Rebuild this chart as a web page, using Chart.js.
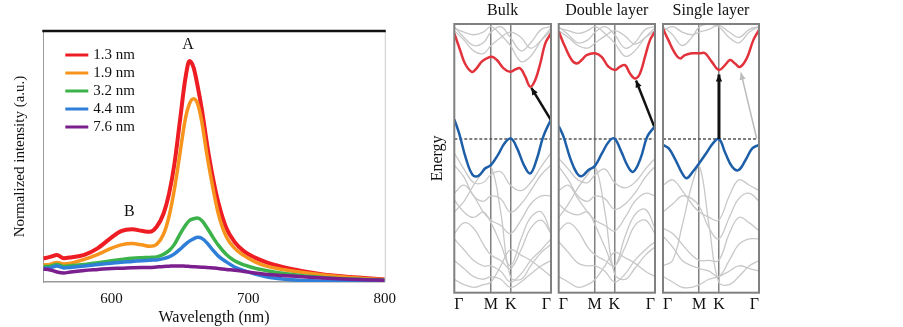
<!DOCTYPE html>
<html lang="en">
<head>
<meta charset="UTF-8">
<title>PL spectra and band structure</title>
<script src="https://cdn.jsdelivr.net/npm/chart.js"></script>
<style>
body { margin: 0; background: #fff; }
#wrap { position: relative; width: 903px; height: 327px; overflow: hidden; }
canvas { position: absolute; top: 0; }
#pl { left: 0; }
#bulk { left: 420px; }
#double { left: 548px; }
#single { left: 653px; }
</style>
</head>
<body>
<div id="wrap">
  <canvas id="pl" width="404" height="327"></canvas>
  <canvas id="bulk" width="141" height="327"></canvas>
  <canvas id="double" width="117" height="327"></canvas>
  <canvas id="single" width="116" height="327"></canvas>
</div>
<script>
// ---- PL spectra (normalized intensity, 0..1 of plot height) ----
const wavelength = [550, 555, 560, 565, 570, 580, 590, 600, 607, 615, 622, 628, 633, 638, 642, 646, 650, 654, 657, 660, 663, 666, 670, 674, 678, 684, 690, 697, 705, 714, 725, 740, 755, 770, 785, 800];
const pl13 = [.094, .10, .108, .095, .098, .108, .135, .178, .203, .21, .204, .2, .22, .272, .35, .47, .64, .81, .88, .855, .78, .69, .545, .42, .32, .215, .16, .122, .097, .077, .06, .043, .03, .022, .016, .01];
const pl19 = [.068, .07, .078, .072, .075, .09, .11, .135, .148, .153, .148, .142, .15, .19, .26, .37, .51, .65, .71, .73, .71, .64, .5, .38, .275, .18, .135, .105, .08, .062, .05, .038, .028, .02, .014, .01];
const pl32 = [.061, .063, .07, .062, .065, .07, .077, .085, .09, .095, .097, .098, .1, .11, .125, .15, .19, .225, .245, .252, .255, .245, .215, .18, .148, .11, .085, .068, .055, .045, .035, .025, .018, .013, .01, .008];
const pl44 = [.054, .056, .064, .056, .058, .064, .07, .075, .079, .082, .085, .087, .088, .093, .1, .112, .13, .15, .163, .172, .178, .174, .155, .128, .104, .08, .06, .045, .032, .02, .012, .006, .004, .003, .003, .003];
const pl76 = [.052, .048, .04, .036, .04, .046, .05, .054, .055, .057, .058, .058, .06, .062, .063, .064, .064, .063, .062, .061, .06, .059, .058, .056, .054, .05, .047, .042, .036, .03, .026, .021, .016, .012, .009, .007];
const thickness = ['1.3 nm', '1.9 nm', '3.2 nm', '4.4 nm', '7.6 nm'];
const wlTicks = [600, 700, 800];
const peakNames = ['A', 'B'];
const peakX = [656, 613];
const peakY = [0.944, 0.279];

// ---- band structures (energy as 0..1 of panel height) ----
const kLabels = ['\u0393', 'M', 'K', '\u0393'];
const bulkK = [0, 0.378, 0.585, 1];
const doubleK = [0, 0.374, 0.578, 1];
const singleK = [0, 0.375, 0.583, 1];
const fermiLevel = 0.572;
const bandK = [0, 0.1, 0.2, 0.3, 0.38, 0.48, 0.58, 0.69, 0.79, 0.9, 1];

const bulkCbK = [0, .06, .11, .18, .23, .284, .336, .388, .44, .51, .578, .63, .68, .734, .785, .837, .889, .941, 1];
const bulkCbE = [.965, .903, .853, .822, .835, .86, .872, .878, .866, .835, .822, .831, .835, .804, .767, .792, .853, .928, .965];
const bulkVbK = [0, .05, .12, .19, .25, .32, .378, .45, .52, .585, .65, .72, .785, .85, .92, 1];
const bulkVbE = [.645, .593, .5, .438, .435, .463, .475, .512, .556, .574, .537, .475, .444, .494, .581, .645];
const bulkArrowK = [0.995, 0.797];
const bulkArrowE = [0.645, 0.762];
const bulkGray = [
  [.99, .95, .92, .93, .97, .99, .95, .90, .93, .98, .99],
  [.985, .97, .96, .97, .99, .96, .92, .86, .88, .94, .985],
  [.975, .94, .90, .89, .92, .95, .97, .95, .91, .94, .975],
  [.52, .46, .41, .41, .44, .45, .40, .38, .41, .47, .52],
  [.475, .43, .36, .34, .36, .35, .30, .33, .38, .44, .475],
  [.37, .40, .36, .30, .27, .25, .22, .27, .33, .36, .36],
  [.345, .30, .28, .30, .26, .18, .10, .20, .28, .30, .22],
  [.22, .26, .24, .18, .14, .12, .09, .16, .24, .27, .22],
  [.20, .16, .12, .10, .10, .08, .04, .07, .12, .16, .20],
  [.12, .09, .06, .05, .06, .05, .02, .04, .07, .10, .12],
  [.30, .34, .40, .45, .47, .30, .06, .05, .10, .15, .18],
  [.05, .03, .02, .03, .04, .10, .16, .14, .12, .09, .06]
];

const doubleCbK = [0, .066, .135, .187, .239, .29, .377, .446, .516, .585, .637, .689, .74, .792, .844, .896, .948, 1];
const doubleCbE = [.972, .915, .866, .853, .866, .884, .891, .878, .841, .829, .841, .847, .816, .797, .816, .878, .94, .972];
const doubleVbK = [0, .05, .12, .19, .24, .31, .374, .45, .52, .578, .65, .72, .775, .85, .92, 1];
const doubleVbE = [.62, .581, .5, .444, .434, .457, .471, .519, .562, .574, .525, .469, .45, .5, .581, .62];
const doubleArrowK = [0.99, 0.803];
const doubleArrowE = [0.62, 0.79];
const doubleGray = [
  [.99, .96, .93, .94, .97, .99, .96, .91, .93, .98, .99],
  [.985, .975, .965, .975, .99, .965, .93, .88, .90, .95, .985],
  [.975, .95, .92, .91, .93, .955, .975, .955, .925, .95, .975],
  [.50, .46, .42, .41, .44, .46, .41, .39, .41, .46, .50],
  [.47, .42, .36, .34, .36, .35, .31, .33, .37, .43, .47],
  [.38, .40, .35, .30, .27, .25, .23, .28, .34, .37, .36],
  [.33, .30, .29, .30, .25, .17, .10, .21, .29, .31, .24],
  [.23, .26, .23, .17, .14, .12, .10, .17, .25, .27, .22],
  [.19, .15, .11, .10, .10, .08, .04, .07, .12, .16, .19],
  [.28, .33, .39, .44, .47, .30, .07, .05, .09, .14, .17],
  [.06, .04, .02, .03, .05, .10, .15, .13, .11, .08, .06]
];

const singleCbK = [0, .056, .125, .177, .229, .3, .385, .438, .507, .583, .646, .698, .75, .802, .872, .941, 1];
const singleCbE = [.982, .94, .891, .872, .884, .891, .891, .891, .86, .829, .847, .866, .853, .84, .872, .94, .978];
const singleVbK = [0, .06, .13, .2, .247, .31, .375, .45, .52, .583, .65, .72, .785, .86, .93, 1];
const singleVbE = [.55, .537, .494, .444, .426, .45, .481, .519, .556, .572, .519, .469, .456, .494, .537, .55];
const singleArrowK = [0.583, 0.583];
const singleArrowE = [0.572, 0.812];
const singleFaintArrowK = [0.976, 0.812];
const singleFaintArrowE = [0.574, 0.819];
const singleGray = [
  [.99, .96, .92, .95, .99, 1.0, .99, .95, .93, .97, .99],
  [.975, .99, .97, .96, .97, .98, .995, .97, .95, .98, .99],
  [.40, .42, .38, .33, .30, .28, .27, .36, .42, .40, .38],
  [.30, .33, .36, .35, .32, .24, .20, .28, .35, .37, .34],
  [.24, .22, .18, .14, .12, .12, .12, .22, .28, .26, .23],
  [.21, .17, .12, .10, .09, .08, .06, .12, .18, .20, .20],
  [.10, .12, .25, .40, .47, .25, .04, .03, .06, .10, .12],
  [.06, .04, .02, .02, .03, .05, .06, .08, .10, .09, .08]
];

const serif = '"Liberation Serif", "Times New Roman", serif';
Chart.defaults.font.family = serif;
Chart.defaults.color = '#111';
Chart.defaults.animation = false;

const pts = (xs, ys) => xs.map((x, i) => ({ x: x, y: ys[i] }));

// legend, frame and A/B labels of the PL plot
const plDecor = {
  id: 'plDecor',
  afterDraw(chart) {
    const { ctx, chartArea: a, scales } = chart;
    ctx.save();
    ctx.strokeStyle = '#cccccc';
    ctx.lineWidth = 1;
    ctx.beginPath(); ctx.moveTo(a.right + 0.5, a.top); ctx.lineTo(a.right + 0.5, a.bottom); ctx.stroke();
    ctx.strokeStyle = '#111';
    ctx.lineWidth = 2.5;
    ctx.beginPath(); ctx.moveTo(a.left - 1, a.top); ctx.lineTo(a.right + 1, a.top); ctx.stroke();

    ctx.font = '15px ' + serif;
    ctx.textBaseline = 'middle';
    ctx.fillStyle = '#111';
    chart.data.datasets.forEach((ds, i) => {
      const y = a.top + 24 + i * 18;
      ctx.strokeStyle = ds.borderColor;
      ctx.lineWidth = 3;
      ctx.beginPath(); ctx.moveTo(a.left + 22, y); ctx.lineTo(a.left + 45, y); ctx.stroke();
      ctx.fillText(ds.label, a.left + 50, y);
    });

    ctx.textAlign = 'center';
    ctx.font = '16px ' + serif;
    peakNames.forEach((n, i) => {
      ctx.fillText(n, scales.x.getPixelForValue(peakX[i]), scales.y.getPixelForValue(peakY[i]));
    });
    ctx.restore();
  }
};

const plColors = ['#ee1d23', '#f7941d', '#3bb34a', '#2f7ed8', '#7b1e8e'];
const plSeries = [pl13, pl19, pl32, pl44, pl76];

new Chart(document.getElementById('pl'), {
  type: 'line',
  data: {
    datasets: plSeries.map((s, i) => ({
      label: thickness[i],
      data: pts(wavelength, s),
      borderColor: plColors[i],
      borderWidth: i === 0 ? 4 : 3.5,
      order: 4 - i
    }))
  },
  options: {
    responsive: false,
    layout: { padding: { left: 0, right: 11, top: 31, bottom: 0 } },
    elements: { point: { radius: 0 }, line: { cubicInterpolationMode: 'monotone' } },
    plugins: { legend: { display: false }, tooltip: { enabled: false } },
    scales: {
      x: {
        type: 'linear', min: 550, max: 800,
        afterBuildTicks: s => { s.ticks = wlTicks.map(v => ({ value: v })); },
        grid: { display: false, drawTicks: false },
        border: { color: '#999', width: 1.5 },
        ticks: { font: { size: 15 }, padding: 8, color: '#111' },
        title: { display: true, text: 'Wavelength (nm)', font: { size: 16 }, padding: { top: 0, bottom: 0 } },
        afterFit: s => { s.height = 45; }
      },
      y: {
        min: 0, max: 1,
        ticks: { display: false },
        grid: { display: false },
        border: { color: '#999', width: 1 },
        title: { display: true, text: 'Normalized intensity (a.u.)', font: { size: 15 }, padding: { top: 11, bottom: 11 } },
        afterFit: s => { s.width = 43.3; }
      }
    }
  },
  plugins: [plDecor]
});

// frame, arrowheads and caption of a band panel
const panelDecor = {
  id: 'panelDecor',
  afterDatasetsDraw(chart, args, opts) {
    const { ctx, chartArea: a } = chart;
    ctx.save();
    chart.data.datasets.forEach((ds, i) => {
      if (!ds.arrow) return;
      const p = chart.getDatasetMeta(i).data;
      const p0 = p[p.length - 2], p1 = p[p.length - 1];
      const ang = Math.atan2(p1.y - p0.y, p1.x - p0.x);
      const L = 7, W = 3.2;
      ctx.fillStyle = ds.borderColor;
      ctx.beginPath();
      ctx.moveTo(p1.x, p1.y);
      ctx.lineTo(p1.x - L * Math.cos(ang) + W * Math.sin(ang), p1.y - L * Math.sin(ang) - W * Math.cos(ang));
      ctx.lineTo(p1.x - L * Math.cos(ang) - W * Math.sin(ang), p1.y - L * Math.sin(ang) + W * Math.cos(ang));
      ctx.closePath();
      ctx.fill();
    });
    ctx.strokeStyle = '#808080';
    ctx.lineWidth = 2;
    ctx.strokeRect(a.left, a.top, a.right - a.left, a.bottom - a.top);
    ctx.fillStyle = '#111';
    ctx.font = '16px ' + serif;
    ctx.textAlign = 'center';
    ctx.textBaseline = 'middle';
    ctx.fillText(opts.name, (a.left + a.right) / 2, 11);
    ctx.restore();
  }
};

function makePanel(id, p) {
  const datasets = p.gray.map(ys => ({
    data: pts(bandK, ys), borderColor: '#c8c8c8', borderWidth: 1.3, order: 5
  }));
  datasets.push({ data: pts([0, 1], [fermiLevel, fermiLevel]), borderColor: '#555', borderWidth: 1.5, borderDash: [3, 2], tension: 0, order: 3 });
  datasets.push({ data: pts(p.cbK, p.cbE), borderColor: '#e2323b', borderWidth: 2.5, order: 1 });
  datasets.push({ data: pts(p.vbK, p.vbE), borderColor: '#1d5ea8', borderWidth: 2.5, order: 1 });
  p.arrows.forEach(ar => datasets.push({
    data: pts(ar.k, ar.e), borderColor: ar.color, borderWidth: ar.width, tension: 0, arrow: true, order: 0
  }));

  new Chart(document.getElementById(id), {
    type: 'line',
    data: { datasets: datasets },
    options: {
      responsive: false,
      layout: { padding: { left: p.padLeft, right: 10, top: 24, bottom: 0 } },
      elements: { point: { radius: 0 }, line: { tension: 0.4 } },
      plugins: { legend: { display: false }, tooltip: { enabled: false }, panelDecor: { name: p.name } },
      scales: {
        x: {
          type: 'linear', min: 0, max: 1,
          afterBuildTicks: s => { s.ticks = p.kTicks.map(v => ({ value: v })); },
          grid: {
            drawTicks: false, lineWidth: 1.5,
            color: c => (c.tick && c.tick.value > 0 && c.tick.value < 1) ? '#808080' : 'rgba(0,0,0,0)'
          },
          border: { display: false },
          ticks: { autoSkip: false, maxRotation: 0, align: 'inner', padding: 2, font: { size: 16 }, color: '#111',
                   callback: (v, i) => kLabels[i] },
          afterFit: s => { s.height = 34.3; }
        },
        y: p.energyAxis ? {
          min: 0, max: 1,
          ticks: { display: false },
          grid: { display: false },
          border: { display: false },
          title: { display: true, text: 'Energy', font: { size: 16 }, padding: { top: 8, bottom: 8 } },
          afterFit: s => { s.width = 34.3; }
        } : { display: false, min: 0, max: 1 }
      }
    },
    plugins: [panelDecor]
  });
}

makePanel('bulk', {
  name: 'Bulk', padLeft: 0, energyAxis: true, kTicks: bulkK, gray: bulkGray,
  cbK: bulkCbK, cbE: bulkCbE, vbK: bulkVbK, vbE: bulkVbE,
  arrows: [{ k: bulkArrowK, e: bulkArrowE, color: '#111', width: 2.5 }]
});
makePanel('double', {
  name: 'Double layer', padLeft: 10.7, energyAxis: false, kTicks: doubleK, gray: doubleGray,
  cbK: doubleCbK, cbE: doubleCbE, vbK: doubleVbK, vbE: doubleVbE,
  arrows: [{ k: doubleArrowK, e: doubleArrowE, color: '#111', width: 2.5 }]
});
makePanel('single', {
  name: 'Single layer', padLeft: 10, energyAxis: false, kTicks: singleK, gray: singleGray,
  cbK: singleCbK, cbE: singleCbE, vbK: singleVbK, vbE: singleVbE,
  arrows: [
    { k: singleArrowK, e: singleArrowE, color: '#111', width: 3 },
    { k: singleFaintArrowK, e: singleFaintArrowE, color: '#bbbbbb', width: 1.5 }
  ]
});
</script>
</body>
</html>
